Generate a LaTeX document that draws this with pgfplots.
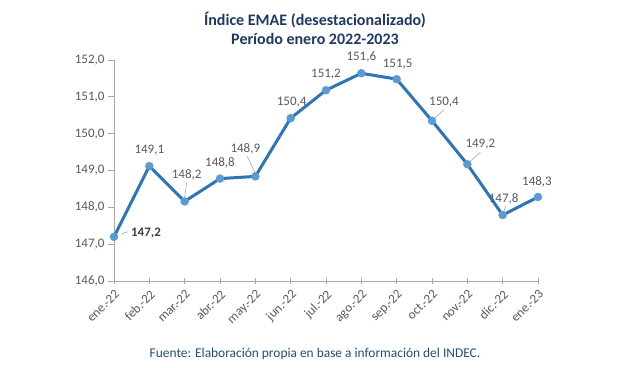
\documentclass[border=0pt]{standalone}
\usepackage{fontspec}
\setmainfont{Carlito}
\usepackage{pgfplots}
\pgfplotsset{compat=1.18}
\definecolor{titleblue}{HTML}{1F3864}
\definecolor{lineblue}{HTML}{2E75B6}
\definecolor{markblue}{HTML}{5B9BD5}
\definecolor{txtgray}{HTML}{595959}
\definecolor{axgray}{HTML}{A6A6A6}
\definecolor{footblue}{HTML}{1F4E79}
\begin{document}
\begin{tikzpicture}[x=1pt,y=1pt]
\path[use as bounding box] (0,0) rectangle (628,-367);
\node[anchor=base, font=\bfseries\fontsize{16}{19}\selectfont, text=titleblue] at (315,-25) {Índice EMAE (desestacionalizado)};
\node[anchor=base, font=\bfseries\fontsize{16}{19}\selectfont, text=titleblue] at (315,-44) {Período enero 2022-2023};
\node[anchor=base, font=\fontsize{13.4}{16}\selectfont, text=footblue] at (315,-357) {Fuente: Elaboración propia en base a información del INDEC.};
\begin{axis}[
  at={(114pt,-281pt)}, anchor=south west,
  scale only axis, width=424pt, height=221pt,
  xmin=0, xmax=12, ymin=146, ymax=152,
  axis x line*=bottom, axis y line*=left,
  axis line style={draw=axgray, line width=0.8pt},
  every tick/.style={draw=axgray, line width=0.8pt},
  xtick={0,...,12},
  xticklabels={ene.-22,feb.-22,mar.-22,abr.-22,may.-22,jun.-22,jul.-22,ago.-22,sep.-22,oct.-22,nov.-22,dic.-22,ene.-23},
  x tick label style={rotate=45, anchor=north east, font=\fontsize{13}{15}\selectfont, text=txtgray, yshift=0pt},
  xtick align=center, major tick length=6pt,
  ytick={146,...,152},
  y tick label style={font=\fontsize{13}{15}\selectfont, text=txtgray},
  yticklabel style={/pgf/number format/.cd, fixed, fixed zerofill, precision=1, use comma, assume math mode=true},
  ytick align=outside,
  clip=false,
]
\addplot[lineblue, line width=3pt, mark=*, mark size=4pt, mark options={solid, draw=markblue, fill=markblue, line width=0.4pt}] coordinates {
(0,147.20) (1,149.12) (2,148.16) (3,148.78) (4,148.84) (5,150.42) (6,151.18) (7,151.64) (8,151.48) (9,150.35) (10,149.17) (11,147.79) (12,148.28)
};
\tikzset{lab/.style={font=\fontsize{13}{15}\selectfont, text=txtgray, inner sep=0pt}}
\node[lab, font=\bfseries\fontsize{13}{15}\selectfont, text=black!75] at ([shift={(32pt,4pt)}]axis cs:0,147.20) {147,2};
\draw[axgray, line width=0.6pt] ([shift={(8pt,3pt)}]axis cs:0,147.20) -- ([shift={(14pt,5pt)}]axis cs:0,147.20);
\node[lab] at ([shift={(0pt,16pt)}]axis cs:1,149.12) {149,1};
\node[lab] at ([shift={(2pt,27pt)}]axis cs:2,148.16) {148,2};
\draw[axgray, line width=0.6pt] ([shift={(0pt,4pt)}]axis cs:2,148.16) -- ([shift={(2pt,19pt)}]axis cs:2,148.16);
\node[lab] at ([shift={(0pt,16pt)}]axis cs:3,148.78) {148,8};
\node[lab] at ([shift={(-10pt,28pt)}]axis cs:4,148.84) {148,9};
\draw[axgray, line width=0.6pt] ([shift={(0pt,3pt)}]axis cs:4,148.84) -- ([shift={(-8pt,20pt)}]axis cs:4,148.84);
\node[lab] at ([shift={(1pt,16pt)}]axis cs:5,150.42) {150,4};
\node[lab] at ([shift={(0pt,16pt)}]axis cs:6,151.18) {151,2};
\node[lab] at ([shift={(0pt,16pt)}]axis cs:7,151.64) {151,6};
\node[lab] at ([shift={(1pt,15pt)}]axis cs:8,151.48) {151,5};
\node[lab] at ([shift={(12pt,19pt)}]axis cs:9,150.35) {150,4};
\draw[axgray, line width=0.6pt] ([shift={(3pt,3pt)}]axis cs:9,150.35) -- ([shift={(12pt,11pt)}]axis cs:9,150.35);
\node[lab] at ([shift={(13pt,20pt)}]axis cs:10,149.17) {149,2};
\draw[axgray, line width=0.6pt] ([shift={(3pt,3pt)}]axis cs:10,149.17) -- ([shift={(13pt,12pt)}]axis cs:10,149.17);
\node[lab] at ([shift={(1pt,16pt)}]axis cs:11,147.79) {147,8};
\draw[axgray, line width=0.6pt] ([shift={(1pt,3pt)}]axis cs:11,147.79) -- ([shift={(3pt,9pt)}]axis cs:11,147.79);
\node[lab] at ([shift={(-1pt,15pt)}]axis cs:12,148.28) {148,3};
\end{axis}
\end{tikzpicture}
\end{document}
